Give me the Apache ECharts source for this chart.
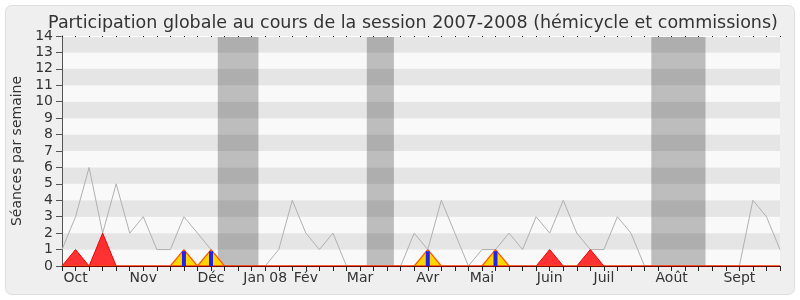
<!DOCTYPE html>
<html><head><meta charset="utf-8">
<script src="https://cdn.jsdelivr.net/npm/echarts@6/dist/echarts.min.js"></script>
<style>html,body{margin:0;padding:0;background:#fff}#c{width:800px;height:300px}</style>
</head><body><div id="c"></div>
<script>
// 54 weekly points, Sept 2007 -> Sept 2008
const monthLabels = ['', 'Oct', '', '', '', '', 'Nov', '', '', '', '', 'Déc', '', '', '', 'Jan 08', '', '', 'Fév', '', '', '', 'Mar', '', '', '', '', 'Avr', '', '', '', 'Mai', '', '', '', '', 'Juin', '', '', '', 'Juil', '', '', '', '', 'Août', '', '', '', '', 'Sept', '', '', ''];
const totalWeekly = [1,3,6,2,5,2,3,1,1,3, 2,1,0,0,0,0,1,4,2,1, 2,0,0,0,0,0,2,1,4,2, 0,1,1,2,1,3,2,4,2,1, 1,3,2,0,0,0,0,0,0,0, 0,4,3,1];
const hemicycleWeekly = [0,1,0,2,0,0,0,0,0,0, 0,0,0,0,0,0,0,0,0,0, 0,0,0,0,0,0,0,0,0,0, 0,0,0,0,0,0,1,0,0,1, 0,0,0,0,0,0,0,0,0,0, 0,0,0,0];
const commissionWeekly = [0,0,0,0,0,0,0,0,0,1, 0,1,0,0,0,0,0,0,0,0, 0,0,0,0,0,0,0,1,0,0, 0,0,1,0,0,0,0,0,0,0, 0,0,0,0,0,0,0,0,0,0, 0,0,0,0];
const presidentWeekly = [0,0,0,0,0,0,0,0,0,0.9, 0,0.9,0,0,0,0,0,0,0,0, 0,0,0,0,0,0,0,0.9,0,0, 0,0,0.9,0,0,0,0,0,0,0, 0,0,0,0,0,0,0,0,0,0, 0,0,0,0];
// holiday weeks [firstWeek, lastWeek] (band spans half a week on each side)
const vacations = [[12,14],[23,24],[44,47]];
const yTicks = [0,14,1];

const N = monthLabels.length - 1;
const pairs = arr => arr.map((v,i)=>[i,v]);
const font = 'DejaVu Sans';
const chart = echarts.init(document.getElementById('c'), null, {renderer:'canvas'});
chart.setOption({
  animation:false,
  backgroundColor:'#fff',
  graphic:[{type:'rect', z:-10, shape:{x:5.5,y:5.5,width:789,height:289,r:6}, style:{fill:'#efefef',stroke:'#dedede',lineWidth:1}}],
  title:{text:'Participation globale au cours de la session 2007-2008 (hémicycle et commissions)', left:408, textAlign:'center', top:9,
    textStyle:{fontFamily:font,fontSize:17.5,fontWeight:'normal',color:'#333'}},
  grid:{left:62,right:20,top:36,bottom:34},
  xAxis:[{type:'value', min:0, max:N, interval:1, z:10,
    axisLine:{show:true,onZero:false,lineStyle:{color:'#800000',width:1}},
    axisTick:{show:true,length:5,lineStyle:{color:'#222'}},
    axisLabel:{formatter:v=>monthLabels[Math.round(v)]||'', fontFamily:font,fontSize:14,color:'#333',margin:5,
      showMinLabel:true,showMaxLabel:true,hideOverlap:false},
    splitLine:{show:false}},
   {type:'value', min:0, max:N, interval:1, position:'top', z:10,
    axisLine:{show:true,onZero:false,lineStyle:{color:'#fff',width:1}},
    axisTick:{show:true,inside:true,length:1,lineStyle:{color:'#000'}},
    axisLabel:{show:false}, splitLine:{show:false}}],
  yAxis:{type:'value', min:yTicks[0], max:yTicks[1], interval:yTicks[2],
    name:'Séances par semaine', nameLocation:'middle', nameGap:38, nameRotate:90,
    nameTextStyle:{fontFamily:font,fontSize:14,color:'#333'},
    axisLine:{show:true,lineStyle:{color:'#555'}},
    axisTick:{show:true,length:6,lineStyle:{color:'#555'}},
    axisLabel:{fontFamily:font,fontSize:14,color:'#333',margin:9},
    splitLine:{show:false},
    splitArea:{show:true,areaStyle:{color:['#f9f9f9','#e5e5e5']}}},
  series:[
    {type:'line', data:pairs(totalWeekly), symbol:'none', z:2,
     lineStyle:{color:'#b0b0b0',width:1},
     markArea:{silent:true, itemStyle:{color:'rgba(0,0,0,0.24)'},
       data:vacations.map(v=>[{xAxis:v[0]-0.5},{xAxis:v[1]+0.5}])}},
    {type:'line', data:pairs(hemicycleWeekly), symbol:'none', z:3,
     lineStyle:{color:'#ee0000',width:1}, areaStyle:{color:'rgba(255,0,0,0.8)',opacity:1}},
    {type:'line', data:pairs(commissionWeekly), symbol:'none', z:3,
     lineStyle:{color:'#ff5500',width:1.2}, areaStyle:{color:'#ffd700',opacity:1}},
    {type:'bar', data:pairs(presidentWeekly), barWidth:4, z:4, itemStyle:{color:'#2222ee'}}
  ]
});
</script></body></html>
